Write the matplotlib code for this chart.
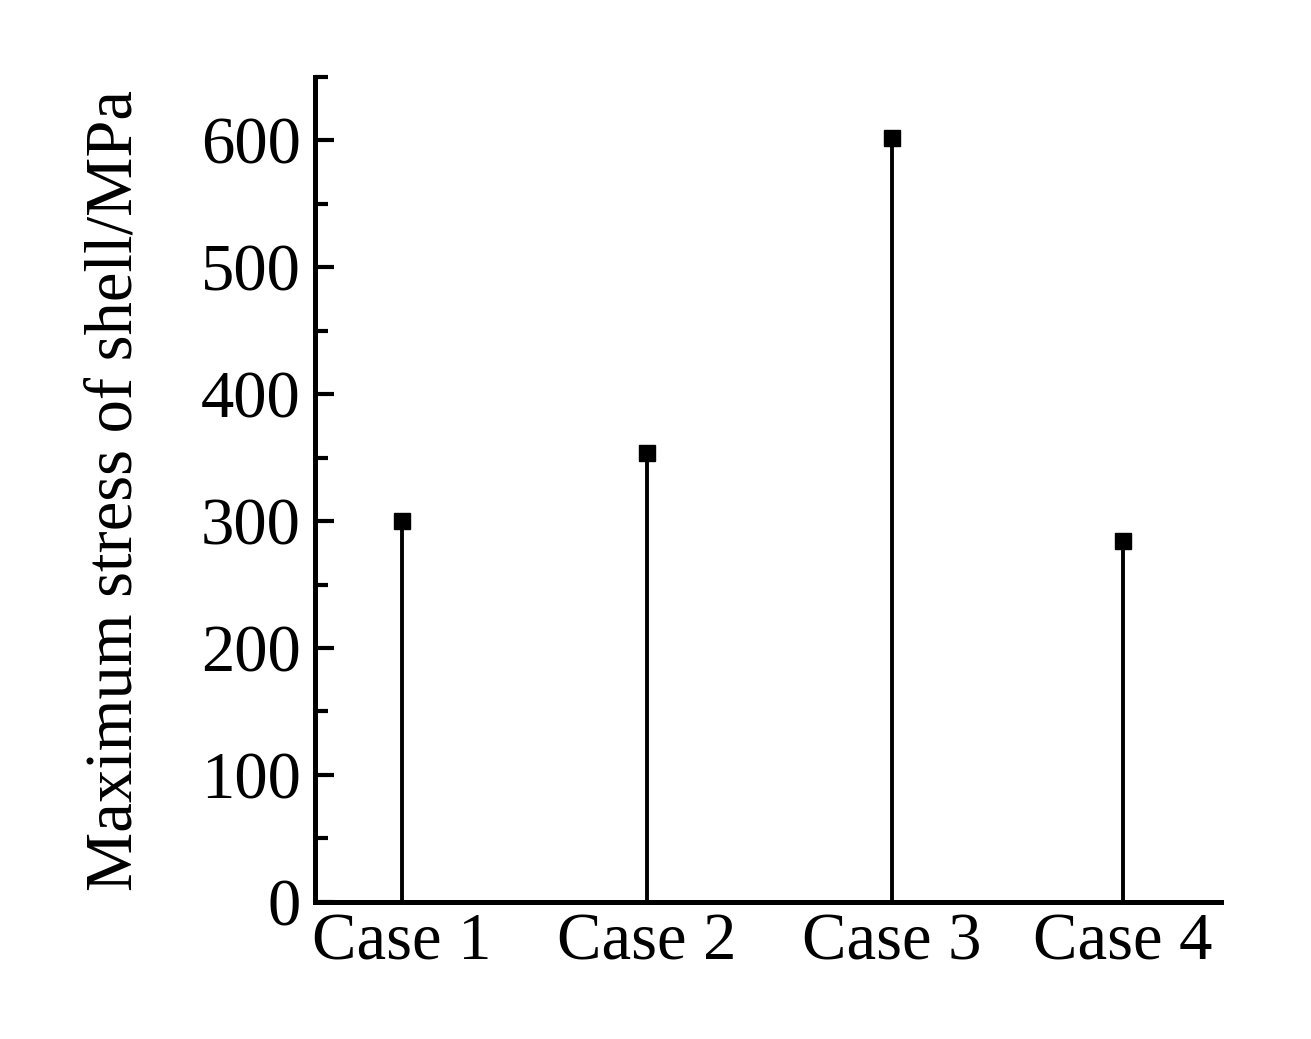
import matplotlib.pyplot as plt
from matplotlib.ticker import MultipleLocator

# data
cases  = ['Case 1', 'Case 2', 'Case 3', 'Case 4']
stress = [300, 354, 602, 284]   # MPa
x_pos  = [1, 2, 3, 3.94]

plt.rcParams['font.family'] = ['Liberation Serif', 'DejaVu Serif']

fig = plt.figure(figsize=(13.11, 10.39), dpi=100)
ax = fig.add_axes([0.240, 0.132, 0.691, 0.794])

ax.vlines(x_pos, 0, stress, color='black', linewidth=2.8)
ax.plot(x_pos, stress, 's', color='black', markersize=12)

ax.set_xlim(0.645, 4.339)
ax.set_ylim(0, 650)
ax.set_xticks(x_pos)
ax.set_xticklabels(cases)
ax.yaxis.set_major_locator(MultipleLocator(100))
ax.yaxis.set_minor_locator(MultipleLocator(50))

ax.spines['top'].set_visible(False)
ax.spines['right'].set_visible(False)
for s in ['left', 'bottom']:
    ax.spines[s].set_linewidth(3.6)

ax.tick_params(axis='x', length=0, pad=8, labelsize=48)
ax.tick_params(axis='y', which='major', direction='in', length=14, width=3,
               pad=10, labelsize=48)
ax.tick_params(axis='y', which='minor', direction='in', length=9.5, width=3)

ax.set_ylabel('Maximum stress of shell/MPa', fontsize=48)
ax.yaxis.set_label_coords(-0.187, 0.499)

fig.savefig('out.png', dpi=100)
